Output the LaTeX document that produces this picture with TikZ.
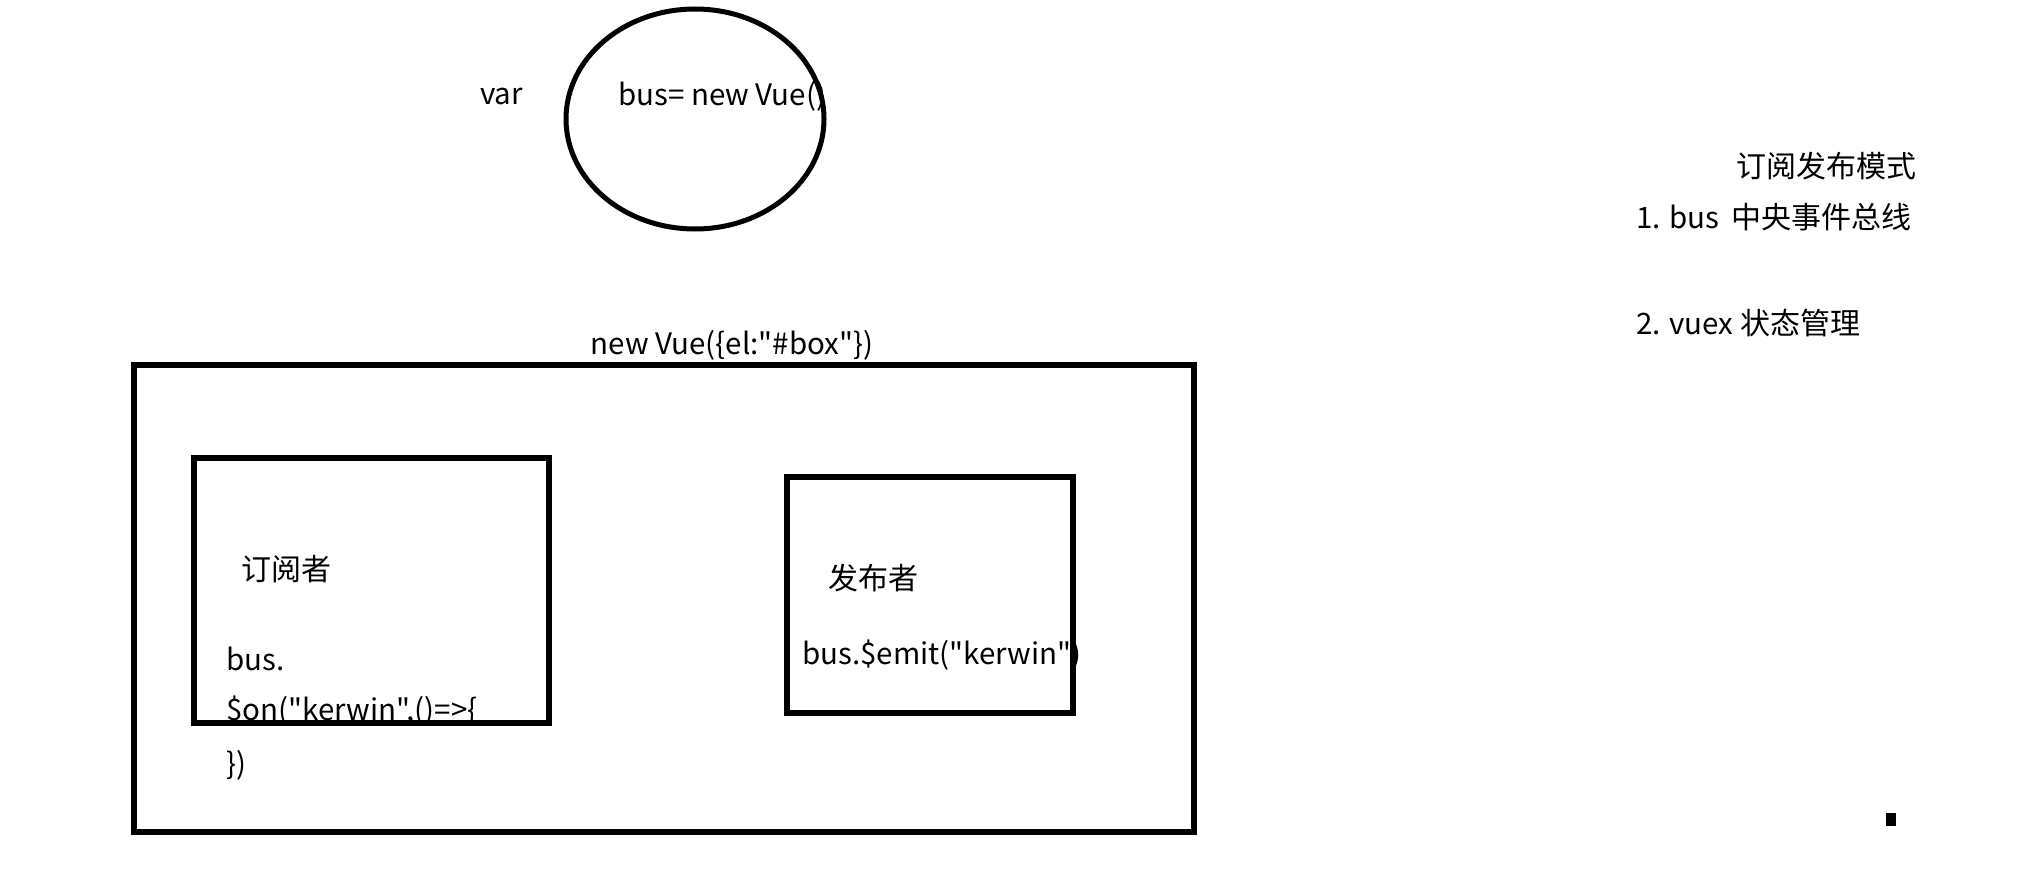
\documentclass[tikz,border=0pt]{standalone}
\usepackage{fontspec}
\setmainfont{Noto Sans CJK SC}[Ligatures=TeXOff]
\usetikzlibrary{shapes.geometric}
\newcommand\zhtxt[1]{{\fontsize{30}{33}\selectfont #1}}
\tikzset{
  txt/.style={inner sep=0pt, anchor=west, font=\fontsize{29.5}{32}\selectfont},
  frame/.style={draw=black, line width=6pt, fill=none, inner sep=0pt},
}
\begin{document}
\begin{tikzpicture}[x=1pt,y=-1pt]
\useasboundingbox[fill=white] (0,0) rectangle (2039,872);
% bus ellipse
\node (busell) [ellipse, draw=black, line width=5pt, minimum width=258pt, minimum height=220pt, inner sep=0pt] at (695,119) {};
\node (var) [txt] at (480,96) {var};
\node (busnew) [txt] at (618,96) {bus= new Vue()};
% root vue
\node (rootlbl) [txt, anchor=center] at (732,345) {new Vue(\{el:"\#box"\})};
\node (root) [frame, minimum width=1060pt, minimum height=467pt] at (664,598.5) {};
% subscriber
\node (sub) [frame, minimum width=355pt, minimum height=265pt] at (371.5,590.5) {};
\node (sublbl) [txt] at (241,569) {\zhtxt{订阅者}};
\node (subl1) [txt] at (226,659) {bus.};
\node (subl2) [txt] at (226,711) {\$on("kerwin",()=>\{};
\node (subl3) [txt] at (226,765) {\})};
% publisher
\node (pub) [frame, minimum width=286pt, minimum height=236pt] at (930,595) {};
\node (publbl) [txt] at (828,578) {\zhtxt{发布者}};
\node (publ1) [txt] at (802,655) {bus.\$emit("kerwin")};
% right notes
\node (title) [txt] at (1736,166) {\zhtxt{订阅发布模式}};
\node (item1) [txt] at (1636,217) {1. bus\hspace{12pt}\zhtxt{中央事件总线}};
\node (item2) [txt] at (1636,323) {2. vuex \zhtxt{状态管理}};
% small mark
\node (mark) [fill=black, minimum width=10pt, minimum height=13pt, inner sep=0pt] at (1891,819.5) {};
\end{tikzpicture}
\end{document}
